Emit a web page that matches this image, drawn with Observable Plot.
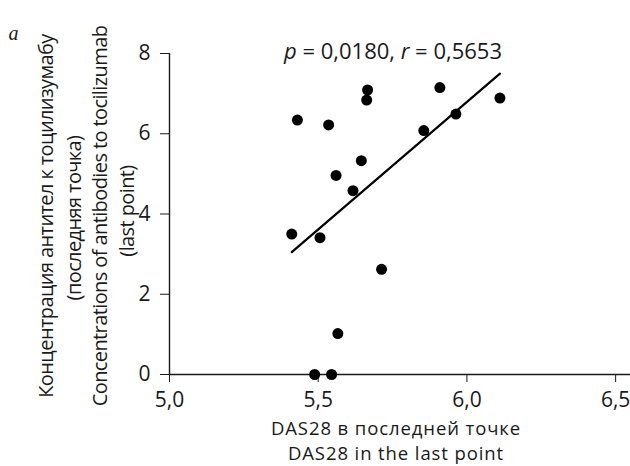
<!DOCTYPE html>
<html>
<head>
<meta charset="utf-8">
<script src="https://cdn.jsdelivr.net/npm/d3@7"></script>
<script src="https://cdn.jsdelivr.net/npm/@observablehq/plot@0.6"></script>
<style>
  html, body { margin: 0; padding: 0; background: #fff; }
</style>
</head>
<body>
<div id="chart"></div>
<script>
// DAS28 at last point (x) and antibody concentration to tocilizumab (y)
const das28    = [5.43, 5.535, 5.666, 5.663, 5.909, 6.111, 5.963, 5.855, 5.645, 5.56, 5.617, 5.411, 5.506, 5.713, 5.566, 5.488, 5.545];
const antibody = [6.34, 6.22, 7.09, 6.84, 7.15, 6.89, 6.49, 6.08, 5.33, 4.96, 4.58, 3.50, 3.41, 2.62, 1.02, 0, 0];

const xTicks = [5, 5.5, 6, 6.5];
const yTicks = [0, 2, 4, 6, 8];

const panelLetter = "а";
const statLabel = "p = 0,0180, r = 0,5653";
const xLabelLines = ["DAS28 в последней точке", "DAS28 in the last point"];
const yLabelLines = [
  "Концентрация антител к тоцилизумабу",
  "(последняя точка)",
  "Concentrations of antibodies to tocilizumab",
  "(last point)"
];

const data = das28.map((x, i) => ({x, y: antibody[i]}));
const fmtComma = d => d.toFixed(1).replace(".", ",");

// positions of y label lines (screen offsets from left/middle of frame)
const yLabelOffsets = [[-123, 2], [-95, 4], [-69, 2], [-42, -3]];

const plot = Plot.plot({
  width: 630,
  height: 466,
  marginLeft: 169,
  marginRight: 0,
  marginTop: 53,
  marginBottom: 92,
  style: {fontFamily: "'Open Sans', sans-serif", fontSize: "21px", color: "#1a1a1a", background: "#fff"},
  x: {domain: [5, 6.55], ticks: xTicks, tickSize: 8, tickPadding: 10, tickFormat: fmtComma, label: null},
  y: {domain: [0, 8], ticks: yTicks, tickSize: 9, tickPadding: 10, tickFormat: d => String(d), label: null},
  marks: [
    Plot.ruleY([0], {stroke: "#1a1a1a", strokeWidth: 1.4}),
    Plot.ruleX([5], {stroke: "#1a1a1a", strokeWidth: 1.4}),
    Plot.linearRegressionY(data, {x: "x", y: "y", ci: 0, stroke: "#000", strokeWidth: 2.2}),
    Plot.dot(data, {x: "x", y: "y", r: 5.5, fill: "#000", stroke: "none"}),
    Plot.text([statLabel], {text: d => d, frameAnchor: "top", textAnchor: "middle", lineAnchor: "middle",
      dx: -7, dy: -2, fontSize: 22}),
    Plot.text([xLabelLines[0]], {text: d => d, frameAnchor: "bottom", textAnchor: "middle", lineAnchor: "middle",
      dx: -4, dy: 55, fontSize: 18.5}),
    Plot.text([xLabelLines[1]], {text: d => d, frameAnchor: "bottom", textAnchor: "middle", lineAnchor: "middle",
      dx: -4, dy: 80, fontSize: 18.5}),
    ...yLabelLines.map((t, i) => Plot.text([t], {text: d => d, frameAnchor: "left", rotate: -90,
      textAnchor: "middle", lineAnchor: "middle",
      dx: yLabelOffsets[i][0], dy: yLabelOffsets[i][1], fontSize: 20})),
    Plot.text([panelLetter], {text: d => d, frameAnchor: "top-left", textAnchor: "middle", lineAnchor: "middle",
      dx: -156, dy: -20, fontSize: 20, fontFamily: "'Liberation Serif', serif", fontStyle: "italic"})
  ]
});

// italicize p and r in the stat label; adjust letter spacing of labels
d3.select(plot).selectAll("text").each(function() {
  const txt = this.textContent;
  if (txt === statLabel) {
    const t = d3.select(this);
    t.text(null);
    t.append("tspan").attr("font-style", "italic").text("p");
    t.append("tspan").text(" = 0,0180, ");
    t.append("tspan").attr("font-style", "italic").text("r");
    t.append("tspan").text(" = 0,5653");
  } else if (yLabelLines.includes(txt)) {
    d3.select(this).attr("letter-spacing", "-0.6px");
  } else if (xLabelLines.includes(txt)) {
    d3.select(this).attr("letter-spacing", "0.9px");
  }
});

document.getElementById("chart").appendChild(plot);
</script>
</body>
</html>
